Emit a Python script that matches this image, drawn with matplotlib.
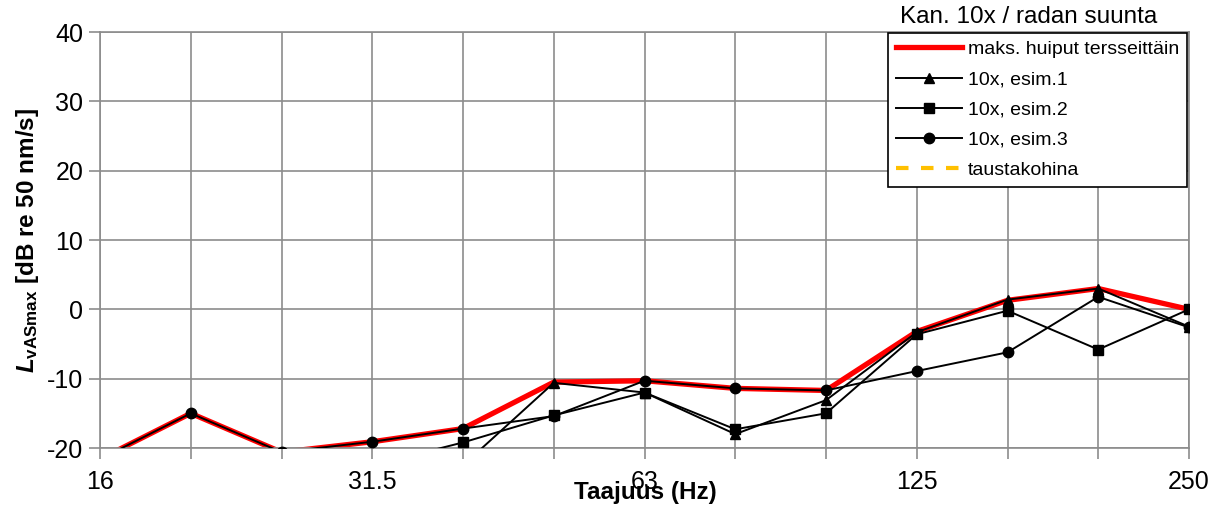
import numpy as np
import matplotlib.pyplot as plt

plt.rcParams['font.family'] = ['Liberation Sans', 'DejaVu Sans']
plt.rcParams['axes.unicode_minus'] = False
plt.rcParams['mathtext.fontset'] = 'custom'
plt.rcParams['mathtext.rm'] = 'Liberation Sans:bold'
plt.rcParams['mathtext.it'] = 'Liberation Sans:bold:italic'
plt.rcParams['mathtext.bf'] = 'Liberation Sans:bold'

# third-octave bands (Hz)
bands = ['16', '20', '25', '31.5', '40', '50', '63', '80', '100', '125', '160', '200', '250']
shown_labels = ['16', '31.5', '63', '125', '250']

# levels in dB re 50 nm/s
max_peaks = [-21.6, -15.0, -20.6, -19.1, -17.2, -10.5, -10.3, -11.4, -11.7, -3.2, 1.3, 3.0, 0.0]
esim1 = [-26.0, -25.0, -27.0, -25.5, -22.5, -10.6, -12.0, -18.0, -13.1, -3.3, 1.4, 3.0, -2.5]
esim2 = [-25.0, -24.0, -26.0, -22.5, -19.2, -15.3, -12.0, -17.3, -15.0, -3.6, -0.2, -5.8, 0.0]
esim3 = [-21.6, -15.0, -20.6, -19.1, -17.2, -15.4, -10.3, -11.4, -11.7, -8.9, -6.2, 1.8, -2.6]
noise = [-30.0, -31.0, -32.0, -33.0, -33.5, -34.0, -34.0, -34.5, -35.0, -35.0, -35.5, -36.0, -36.0]

x = np.arange(len(bands))

fig = plt.figure(figsize=(12.22, 5.14), dpi=100)
ax = fig.add_axes([100 / 1222, 1 - 448 / 514, 1089 / 1222, 416 / 514])

grid_c = '#8c8c8c'
ax.plot(x, max_peaks, color='#ff0000', lw=3.8, zorder=2, label='maks. huiput tersseittäin')
ax.plot(x, esim1, color='black', lw=1.4, marker='^', ms=7.5, zorder=3, label='10x, esim.1')
ax.plot(x, esim2, color='black', lw=1.4, marker='s', ms=7.5, zorder=3, label='10x, esim.2')
ax.plot(x, esim3, color='black', lw=1.4, marker='o', ms=7.5, zorder=3, label='10x, esim.3')
ax.plot(x, noise, color='#ffc000', lw=3, ls=(0, (3, 3)), zorder=2, label='taustakohina')

ax.set_xlim(0, len(bands) - 1)
ax.set_ylim(-20, 40)
ax.set_yticks(range(-20, 41, 10))
ax.set_xticks(x)
ax.set_xticklabels([b if b in shown_labels else '' for b in bands])
ax.grid(True, color=grid_c, lw=1.2, zorder=0)
ax.set_axisbelow(True)
for s in ax.spines.values():
    s.set_color(grid_c)
    s.set_linewidth(1.2)
ax.tick_params(axis='both', colors=grid_c, length=8, width=1.2, labelsize=18,
               labelcolor='black')
ax.tick_params(axis='x', pad=8)
ax.tick_params(axis='y', pad=4)

fig.text(28 / 1222, 1 - 240 / 514, r'$L_{\mathbf{vASmax}}$ [dB re 50 nm/s]',
         rotation=90, ha='center', va='center', fontsize=17.5, fontweight='bold')
fig.text(645 / 1222, 1 - 493 / 514, 'Taajuus (Hz)', ha='center', va='center',
         fontsize=17.5, fontweight='bold')
fig.text(1029 / 1222, 1 - 17 / 514, 'Kan. 10x / radan suunta', ha='center', va='center',
         fontsize=17.5)

leg = ax.legend(loc='upper right', bbox_to_anchor=(0.998, 0.998), borderaxespad=0,
                fontsize=14, handlelength=3.4, frameon=True, fancybox=False,
                framealpha=1, edgecolor='black', labelspacing=0.65, borderpad=0.4,
                handletextpad=0.3)
leg.get_frame().set_linewidth(1.2)

fig.savefig('out.png', dpi=100)
